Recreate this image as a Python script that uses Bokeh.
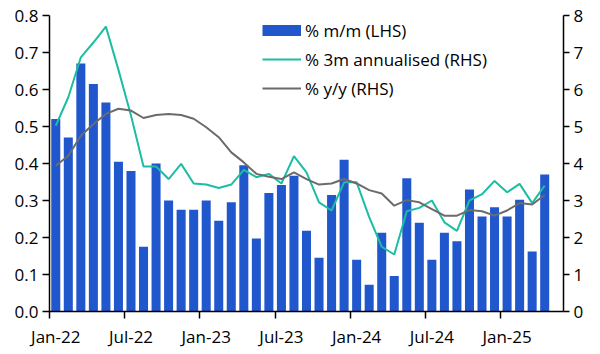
from bokeh.plotting import figure
from bokeh.models import (Range1d, LinearAxis, FixedTicker, Legend, LegendItem,
                          ColumnDataSource, NumeralTickFormatter)
from bokeh.embed import file_html
from bokeh.resources import INLINE

months = ["Jan-22", "Feb-22", "Mar-22", "Apr-22", "May-22", "Jun-22", "Jul-22", "Aug-22",
          "Sep-22", "Oct-22", "Nov-22", "Dec-22", "Jan-23", "Feb-23", "Mar-23", "Apr-23",
          "May-23", "Jun-23", "Jul-23", "Aug-23", "Sep-23", "Oct-23", "Nov-23", "Dec-23",
          "Jan-24", "Feb-24", "Mar-24", "Apr-24", "May-24", "Jun-24", "Jul-24", "Aug-24",
          "Sep-24", "Oct-24", "Nov-24", "Dec-24", "Jan-25", "Feb-25", "Mar-25", "Apr-25"]

mm_lhs = [0.52, 0.47, 0.67, 0.615, 0.565, 0.405, 0.38, 0.175, 0.40, 0.30,
          0.275, 0.275, 0.30, 0.245, 0.295, 0.395, 0.197, 0.32, 0.342, 0.367,
          0.218, 0.145, 0.315, 0.41, 0.14, 0.072, 0.213, 0.096, 0.36, 0.24,
          0.14, 0.213, 0.19, 0.33, 0.257, 0.282, 0.257, 0.302, 0.162, 0.37]

ann3m_rhs = [5.02, 5.79, 6.87, 7.27, 7.70, 6.53, 5.30, 3.92, 3.92, 3.58,
             3.99, 3.46, 3.43, 3.34, 3.43, 3.83, 3.63, 3.72, 3.46, 4.20,
             3.76, 2.95, 2.73, 3.49, 3.49, 2.55, 1.75, 1.54, 2.71, 2.80,
             3.00, 2.41, 2.18, 3.00, 3.17, 3.53, 3.22, 3.45, 2.93, 3.40]

yoy_rhs = [3.94, 4.21, 4.75, 5.07, 5.34, 5.48, 5.43, 5.23, 5.31, 5.34,
           5.31, 5.21, 4.98, 4.71, 4.30, 4.03, 3.72, 3.64, 3.58, 3.76,
           3.58, 3.43, 3.46, 3.58, 3.46, 3.28, 3.19, 2.86, 3.01, 2.95,
           2.77, 2.59, 2.59, 2.74, 2.71, 2.59, 2.73, 2.93, 2.89, 3.15]

tick_labels = ["Jan-22", "Jul-22", "Jan-23", "Jul-23", "Jan-24", "Jul-24", "Jan-25"]
lhs_ticks = [0.0, 0.1, 0.2, 0.3, 0.4, 0.5, 0.6, 0.7, 0.8]
rhs_ticks = [0, 1, 2, 3, 4, 5, 6, 7, 8]

BLUE = "#2157CD"
TEAL = "#1DBDA3"
GREY = "#6B6B6B"
FONT = "Open Sans"
FS = "17px"

x = list(range(len(months)))
src = ColumnDataSource(dict(x=x, mm=mm_lhs, ann=ann3m_rhs, yoy=yoy_rhs))

p = figure(width=600, height=354, output_backend="svg", toolbar_location=None,
           x_range=Range1d(-0.5, len(months) + 0.5), y_range=Range1d(0, 0.8),
           min_border_left=49, min_border_right=37, min_border_top=15,
           min_border_bottom=43)
p.extra_y_ranges = {"rhs": Range1d(0, 8)}
p.outline_line_color = None
p.xgrid.visible = False
p.ygrid.visible = False
p.background_fill_color = "white"
p.border_fill_color = "white"

bars = p.vbar(x="x", top="mm", width=0.72, source=src, fill_color=BLUE, line_color=None)
ann_r = p.line("x", "ann", source=src, y_range_name="rhs", line_color=TEAL, line_width=2)
yoy_r = p.line("x", "yoy", source=src, y_range_name="rhs", line_color=GREY, line_width=2)
# legend swatch for the bars (a one-point line draws nothing on the plot)
swatch = p.line(x=[0], y=[0], line_color=BLUE, line_width=11)

# x axis: ticks at month boundaries, labels centred on the month
xa = p.xaxis[0]
major = [months.index(t) for t in tick_labels]
xa.ticker = FixedTicker(ticks=major, minor_ticks=[m - 0.5 for m in major])
xa.major_label_overrides = {m: t for m, t in zip(major, tick_labels)}
xa.major_tick_out = 0
xa.major_tick_in = 0
xa.minor_tick_out = 7
xa.minor_tick_in = 0
xa.minor_tick_line_color = "black"
xa.minor_tick_line_width = 1.5
xa.axis_line_width = 1.5
xa.axis_line_color = "black"
xa.major_label_standoff = 6
xa.major_label_text_font = FONT
xa.major_label_text_font_size = FS
xa.major_label_text_color = "black"

ya = p.yaxis[0]
ya.ticker = FixedTicker(ticks=lhs_ticks)
ya.formatter = NumeralTickFormatter(format="0.0")
ya.major_tick_out = 7
ya.major_tick_in = 0
ya.minor_tick_out = 0
ya.minor_tick_in = 0
ya.major_tick_line_width = 1.5
ya.axis_line_width = 1.5
ya.major_label_standoff = 4
ya.major_label_text_font = FONT
ya.major_label_text_font_size = FS
ya.major_label_text_color = "black"

ra = LinearAxis(y_range_name="rhs", ticker=FixedTicker(ticks=rhs_ticks))
ra.major_tick_out = 6
ra.major_tick_in = 0
ra.minor_tick_out = 0
ra.minor_tick_in = 0
ra.major_tick_line_width = 1.5
ra.axis_line_width = 1.5
ra.major_label_standoff = 4
ra.major_label_text_font = FONT
ra.major_label_text_font_size = FS
ra.major_label_text_color = "black"
p.add_layout(ra, "right")

legend = Legend(items=[LegendItem(label="% m/m (LHS)", renderers=[swatch]),
                       LegendItem(label="% 3m annualised (RHS)", renderers=[ann_r]),
                       LegendItem(label="% y/y (RHS)", renderers=[yoy_r])],
                location=(213, 211), orientation="vertical",
                glyph_width=39, glyph_height=24, label_height=24,
                label_standoff=4, spacing=5, padding=0, margin=0,
                border_line_color=None, background_fill_alpha=0,
                label_text_font=FONT, label_text_font_size=FS,
                label_text_color="black")
p.add_layout(legend, "center")

open("out.html", "w").write(file_html(p, INLINE))
